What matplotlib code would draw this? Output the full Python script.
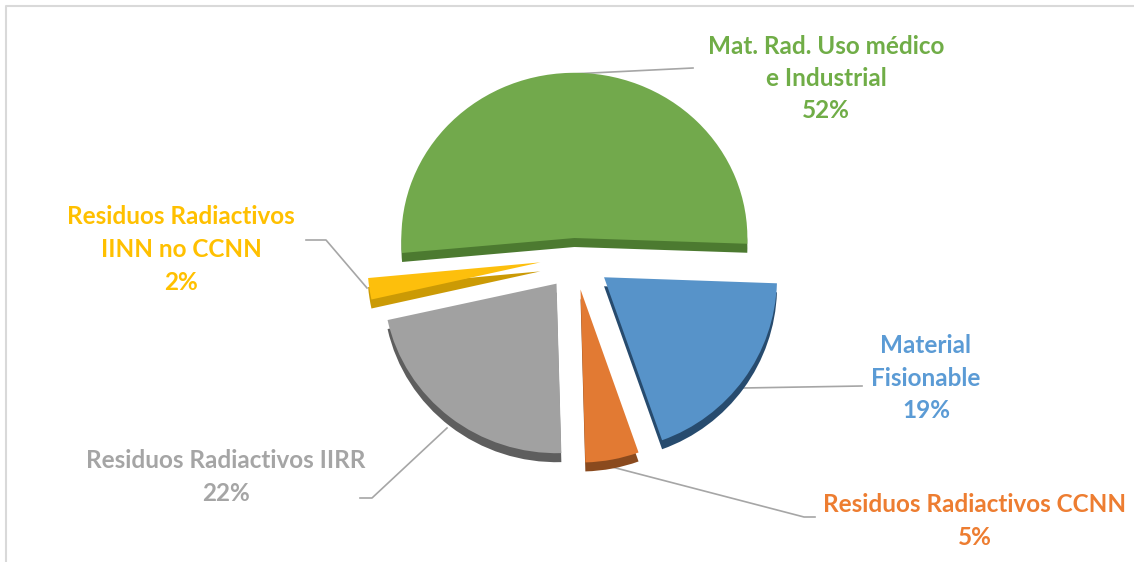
import matplotlib
matplotlib.use("Agg")
import matplotlib.pyplot as plt
from matplotlib.transforms import Affine2D

categories = ["Mat. Rad. Uso médico\ne Industrial", "Residuos Radiactivos\nIINN no CCNN",
              "Residuos Radiactivos IIRR", "Residuos Radiactivos CCNN", "Material\nFisionable"]
shares = [52, 2, 22, 5, 19]
explode = [22, 35, 30, 30, 36]
face_colors = ["#72A94C", "#FDBF0C", "#A1A1A1", "#E27A33", "#5793C9"]
rim_colors = ["#4C7A30", "#CB9A05", "#5E5E5E", "#8A4A1E", "#274B6E"]
text_colors = ["#70AD47", "#FFC000", "#A5A5A5", "#ED7D31", "#5B9BD5"]
label_pos = [(826, 78.5), (181, 249.5), (226, 477), (975, 521), (926, 378)]
leaders = [[(571, 74), (693, 68)],
           [(367, 288), (326, 240), (306, 240)],
           [(447, 428), (372, 498), (360, 498)],
           [(612, 467), (804, 517), (815, 517)],
           [(743, 388), (862, 386)]]
# perspective of the 3D view: vertical squeeze about the apex, and vertical shift
squeeze = [0.955, 1.0, 0.98, 1.0, 1.0]
lift = [0, 3, 0, 0, 4]

W, H = 1134, 562
fig = plt.figure(figsize=(W / 100, H / 100), dpi=100)
ax = fig.add_axes([0, 0, 1, 1])
R = 173
CX, CY = 575, H - 260
DEPTH = 9

# frame (top and left lines only)
ax.plot([5.5, 5.5, W], [0, H - 5.5, H - 5.5], color="#D9D9D9", lw=1.5, solid_capstyle="butt", zorder=1)

# leader lines
for pts in leaders:
    ax.plot([p[0] for p in pts], [H - p[1] for p in pts], color="#A6A6A6", lw=1.2, zorder=1)


def draw_pie(colors, cy, zorder):
    wedges, _ = ax.pie(shares, explode=explode, colors=colors, startangle=-2, counterclock=True,
                       radius=R, center=(CX, cy), frame=True,
                       wedgeprops=dict(zorder=zorder, linewidth=0))
    for w, sq, up in zip(wedges, squeeze, lift):
        x0, y0 = w.center
        w.set_transform(Affine2D().translate(-x0, -y0).scale(1, sq).translate(x0, y0 + up) + ax.transData)


# side of the slices, then their top faces
draw_pie(rim_colors, CY - DEPTH, 2)
draw_pie(face_colors, CY, 3)

for cat, val, col, (x, y) in zip(categories, shares, text_colors, label_pos):
    ax.text(x, H - y, f"{cat}\n{val}%", color=col, ha="center", va="center", family="Lato",
            fontweight="bold", fontsize=17.5, linespacing=1.5, zorder=5)

ax.set_xlim(0, W)
ax.set_ylim(0, H)
ax.set_aspect("equal")
ax.axis("off")
fig.savefig("out.png", dpi=100, facecolor="white")
